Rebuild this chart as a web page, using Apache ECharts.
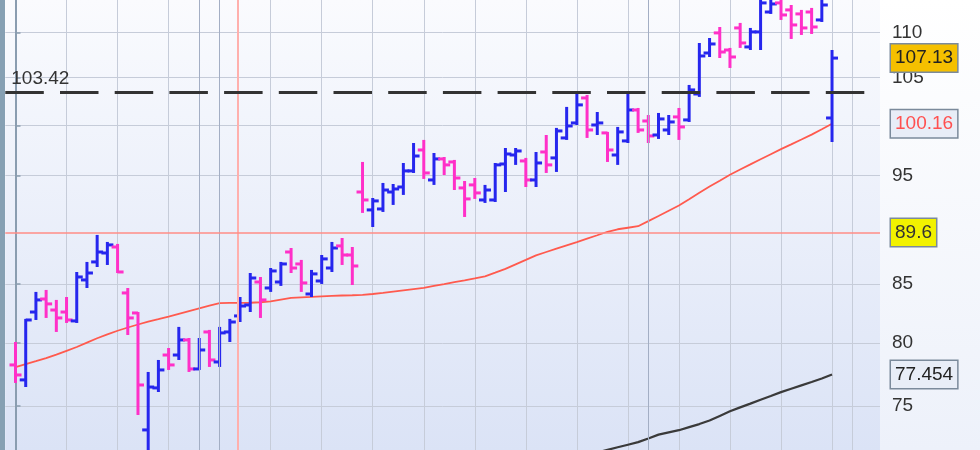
<!DOCTYPE html>
<html><head><meta charset="utf-8">
<script src="https://cdn.jsdelivr.net/npm/echarts@6/dist/echarts.min.js"></script>
<style>
html,body{margin:0;padding:0;background:#fff;}
#wrap{position:relative;width:980px;height:450px;background:linear-gradient(to bottom,#ffffff,#edf1fa);overflow:hidden;}
#chart{position:absolute;left:0;top:0;width:980px;height:450px;}
#stripe{position:absolute;left:0;top:0;width:5px;height:450px;background:#86a0b3;}
</style></head><body>
<div id="wrap"><div id="chart"></div><div id="stripe"></div></div>
<script>
// ---- data (bar index 0..80) ----
const opens = [78.22,77.03,82.58,83.69,82.75,82.58,81.83,85.34,86.93,87.73,
88.27,84.21,82.50,73.18,76.40,79.02,79.02,80.25,77.90,80.91,
78.46,80.91,82.25,83.18,85.16,84.64,85.16,87.82,86.75,84.12,
85.25,86.39,88.37,87.55,93.39,91.69,91.78,93.39,93.87,95.43,
97.50,94.55,96.61,96.31,93.78,94.07,92.63,92.63,96.11,97.00,
96.41,94.55,97.30,96.71,98.71,100.24,102.84,100.03,99.22,97.00,
98.41,101.58,100.44,99.01,99.52,100.86,100.55,103.26,107.69,109.93,
108.02,110.49,108.36,110.04,112.31,113.36,112.55,112.09,112.31,111.40,
100.75];
const highs = [80.08,82.00,84.30,84.47,83.61,83.86,86.04,86.93,89.37,88.73,
88.55,84.64,82.58,77.66,78.62,79.59,81.33,80.41,80.41,81.08,
81.33,82.00,83.86,85.95,85.60,86.39,86.93,88.18,87.11,86.22,
87.55,88.73,89.09,88.27,96.31,92.82,94.26,94.16,96.21,98.20,
98.51,97.20,96.80,96.51,94.45,94.74,94.07,96.21,97.70,97.70,
96.71,97.30,99.01,99.73,101.90,103.42,103.16,101.37,99.32,99.83,
103.42,101.79,101.06,101.27,101.06,101.79,104.22,108.80,109.36,110.60,
108.25,111.06,110.49,114.06,114.06,113.94,113.12,112.55,112.78,114.29,
108.02];
const lows = [76.79,76.47,81.91,82.08,80.91,81.66,81.66,84.64,86.48,86.66,
85.95,80.66,74.31,71.33,76.08,77.82,78.62,77.66,77.82,78.06,
78.06,80.08,81.74,82.58,82.08,84.30,84.82,85.95,84.30,83.86,
84.99,86.04,86.66,84.90,91.41,90.10,91.50,92.16,93.11,95.23,
94.65,94.07,95.03,93.58,91.03,92.73,92.35,92.44,93.39,96.02,
93.87,93.87,95.23,95.33,98.51,100.03,98.71,99.01,96.31,96.02,
98.20,99.22,98.20,98.61,99.01,98.51,100.34,102.95,107.25,107.14,
106.05,108.25,108.02,108.02,112.09,111.40,109.25,109.70,109.81,111.17,
98.30];
const closes = [77.42,81.91,83.61,83.27,82.08,81.91,85.60,85.95,87.82,88.46,
86.04,82.08,76.63,76.47,77.82,78.22,80.25,77.90,79.43,78.62,
80.83,81.74,83.09,85.51,83.61,86.13,86.75,86.39,85.08,85.87,
87.20,88.18,87.55,86.57,92.63,92.54,93.58,93.68,95.43,96.90,
95.23,96.61,96.02,94.74,92.73,93.30,93.58,96.02,97.10,97.40,
94.55,96.21,96.02,99.42,99.93,102.11,99.52,100.24,97.50,99.32,
101.58,99.52,98.91,100.65,100.34,99.83,103.69,107.36,108.69,107.80,
107.25,108.80,110.04,113.36,113.24,111.97,110.83,110.49,110.60,113.12,
107.13];
const maRed = [78.04,78.28,78.52,78.77,79.05,79.36,79.67,80.03,80.39,80.71,
81.01,81.28,81.53,81.77,81.98,82.20,82.43,82.66,82.89,83.12,
83.34,83.35,83.35,83.37,83.41,83.49,83.64,83.79,83.83,83.87,
83.92,83.96,83.99,84.01,84.04,84.12,84.21,84.32,84.43,84.54,
84.65,84.82,84.98,85.15,85.30,85.47,85.66,85.98,86.31,86.71,
87.11,87.52,87.82,88.12,88.42,88.72,89.03,89.34,89.66,89.89,
90.03,90.17,90.64,91.12,91.61,92.10,92.70,93.32,93.91,94.48,
95.06,95.57,96.07,96.58,97.08,97.58,98.06,98.55,99.05,99.59,
100.16];
const maGray = [null,null,null,null,null,null,null,null,null,null,
null,null,null,null,null,null,null,null,null,null,
null,null,null,null,null,null,null,null,null,null,
null,null,null,null,null,null,null,null,null,null,
null,null,null,null,null,null,null,null,null,null,
null,null,null,null,null,71.13,71.32,71.51,71.70,71.89,
72.08,72.27,72.54,72.83,73.00,73.16,73.39,73.62,73.89,74.24,
74.59,74.89,75.18,75.48,75.77,76.07,76.34,76.60,76.86,77.14,
77.454];
const yTicks = [75, 80, 85, 95, 100, 105, 110];
const xGridIdx = [0,5,10,15,25,30,35,40,45,50,55,60,65,70,75,80,82];
const xDarkIdx = [18, 20, 62];
const cursorIdx = 21.8;
const resistance = 103.42;
const support = 89.6;

// ---- chart ----
const UP = '#2626ee', DOWN = '#ff30c8';
const FONT = '"Liberation Sans", Arial, sans-serif';
const ohlcData = opens.map((o, i) => [i, o, closes[i], lows[i], highs[i]]);
const last = closes.length - 1;

function renderOHLC(params, api) {
  const i = api.value(0);
  const o = api.coord([i, api.value(1)]);
  const c = api.coord([i, api.value(2)]);
  const l = api.coord([i, api.value(3)]);
  const h = api.coord([i, api.value(4)]);
  const col = api.value(2) >= api.value(1) ? UP : DOWN;
  const t = 6;
  const st = {stroke: col, lineWidth: 3, lineCap: 'butt'};
  return {type: 'group', children: [
    {type: 'line', shape: {x1: h[0], y1: h[1], x2: l[0], y2: l[1]}, style: st},
    {type: 'line', shape: {x1: o[0] - t, y1: o[1], x2: o[0], y2: o[1]}, style: st},
    {type: 'line', shape: {x1: c[0], y1: c[1], x2: c[0] + t, y2: c[1]}, style: st}
  ]};
}

function boxLabel(text, bg, fg) {
  return {show: true, position: 'end', distance: 11, formatter: text,
    color: fg, fontSize: 19, fontFamily: FONT, backgroundColor: bg,
    borderColor: '#7b8a9b', borderWidth: 1.5, padding: [4, 4, 2, 4], lineHeight: 21};
}
const clear = {color: 'rgba(0,0,0,0)', width: 0};

const chart = echarts.init(document.getElementById('chart'), null, {renderer: 'canvas'});
chart.setOption({
  animation: false,
  backgroundColor: 'transparent',
  grid: {left: 5.3, right: 100, top: 0, bottom: 0, show: true, borderWidth: 0,
    outerBoundsMode: 'none', containLabel: false,
    backgroundColor: {type: 'linear', x: 0, y: 0, x2: 0, y2: 1,
      colorStops: [{offset: 0, color: '#fafbfe'}, {offset: 1, color: '#dbe3f6'}]}},
  xAxis: {type: 'value', min: -1, max: 84.7,
    axisLine: {show: false}, axisTick: {show: false, customValues: xGridIdx},
    axisLabel: {show: false},
    splitLine: {show: true, lineStyle: {color: '#c6ccd9', width: 1}}},
  yAxis: {type: 'log', position: 'right', min: 71.69, max: 113.7,
    axisLine: {show: true, lineStyle: {color: '#8a9db0', width: 2}},
    axisTick: {show: true, customValues: yTicks, length: 5, lineStyle: {color: '#8a9db0', width: 1.5}},
    axisLabel: {show: true, customValues: yTicks, color: '#333', fontSize: 19, fontFamily: FONT, margin: 12},
    splitLine: {show: true, lineStyle: {color: '#c6ccd9', width: 1}}},
  series: [
    {type: 'line', name: 'MA slow', data: maGray.map((v, i) => [i, v]), symbol: 'none',
      lineStyle: {color: '#3a3a3a', width: 2.2}, z: 2, clip: true, silent: true},
    {type: 'line', name: 'MA', data: maRed.map((v, i) => [i, v]), symbol: 'none',
      lineStyle: {color: '#ff5a4e', width: 1.8}, z: 2, clip: true, silent: true,
      markLine: {symbol: ['none', 'none'], silent: true, animation: false, data: [
        {xAxis: xDarkIdx[0], lineStyle: {color: '#a3aec4', width: 1, type: 'solid'}, label: {show: false}},
        {xAxis: xDarkIdx[1], lineStyle: {color: '#a3aec4', width: 1, type: 'solid'}, label: {show: false}},
        {xAxis: xDarkIdx[2], lineStyle: {color: '#a3aec4', width: 1, type: 'solid'}, label: {show: false}},
        {xAxis: cursorIdx, lineStyle: {color: '#ffb0ad', width: 2, type: 'solid'}, label: {show: false}},
        {yAxis: support, lineStyle: {color: '#ff8c86', width: 1.5, type: 'solid'},
          label: boxLabel(String(support), '#f2f200', '#333')},
        {yAxis: resistance, lineStyle: {color: '#333', width: 3, type: [38.5, 16.2]},
          label: {show: true, position: 'insideStartTop', formatter: String(resistance), color: '#333',
            fontSize: 19, fontFamily: FONT, distance: [6, 4]}},
        {yAxis: maGray[last], lineStyle: clear, label: boxLabel(String(maGray[last]), '#e8edf7', '#222')},
        {yAxis: maRed[last], lineStyle: clear, label: boxLabel(String(maRed[last]), '#e8edf7', '#ff5050')},
        {yAxis: closes[last], lineStyle: clear, label: boxLabel(String(closes[last]), '#f5c000', '#222')}
      ]}},
    {type: 'custom', name: 'OHLC', data: ohlcData, encode: {x: 0, y: [1, 2, 3, 4]},
      renderItem: renderOHLC, clip: true, z: 3, silent: true}
  ]
});
</script>
</body></html>
